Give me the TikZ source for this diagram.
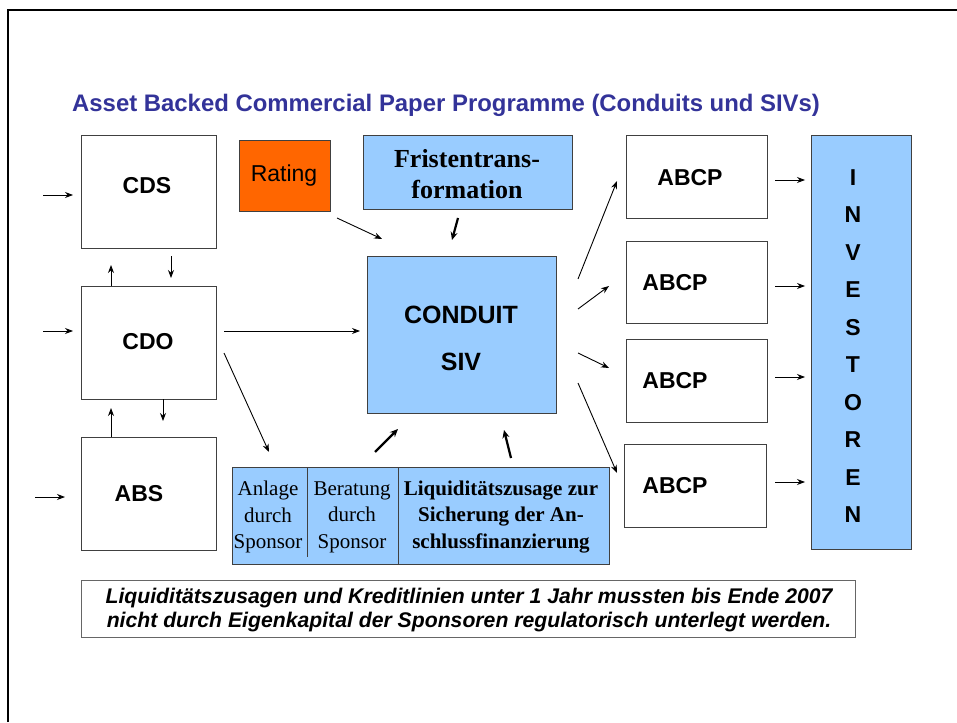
\documentclass[tikz,border=0pt]{standalone}
\usepackage{fontspec}
\setmainfont{Liberation Serif}
\setsansfont{Liberation Sans}
\usetikzlibrary{arrows.meta}
\definecolor{lblue}{HTML}{99CCFF}
\definecolor{orng}{HTML}{FF6600}
\definecolor{ttl}{HTML}{333399}
\begin{document}
\begin{tikzpicture}[x=1pt,y=-1pt,
  wbox/.style={draw=black!75, line width=0.9pt, fill=white, inner sep=0pt, anchor=north west},
  bbox/.style={draw=black!75, line width=0.9pt, fill=lblue, inner sep=0pt, anchor=north west},
  obox/.style={draw=black!75, line width=0.9pt, fill=orng, inner sep=0pt, anchor=north west},
  sflab/.style={font=\sffamily\bfseries\fontsize{23}{27}\selectfont, inner sep=0pt},
  arr/.style={-{Stealth[length=8pt,width=6pt]}, line width=0.9pt},
  tarr/.style={-{Stealth[length=8pt,width=7pt]}, line width=2.2pt},
  cell/.style={align=center, inner sep=0pt, font=\fontsize{21}{26.5}\selectfont}
]
\useasboundingbox (0,0) rectangle (957,722);
\fill[white] (0,0) rectangle (957,722);
\draw[line width=2pt] (8,722) -- (8,10) -- (957,10);

% title
\node[anchor=west, inner sep=0pt, text=ttl, font=\sffamily\bfseries\fontsize{23.9}{27}\selectfont] (title) at (72,105) {Asset Backed Commercial Paper Programme (Conduits und SIVs)};

% left boxes
\node[wbox, minimum width=135pt, minimum height=113pt] (cds) at (81,135) {};
\node[wbox, minimum width=135pt, minimum height=113pt] (cdo) at (81,286) {};
\node[wbox, minimum width=135pt, minimum height=113pt] (abs) at (81,437) {};
\node[sflab] (cdst) at (147,186) {CDS};
\node[sflab] (cdot) at (148,342) {CDO};
\node[sflab] (abst) at (139,494) {ABS};

% rating and fristen
\node[obox, minimum width=91pt, minimum height=71pt] (rating) at (239,140) {};
\node[inner sep=0pt, font=\sffamily\fontsize{23}{27}\selectfont] (ratingt) at (284,176) {Rating};
\node[bbox, minimum width=209pt, minimum height=74pt] (frist) at (363,135) {};
\node[align=center, inner sep=0pt, font=\bfseries\fontsize{26}{31}\selectfont] (fristt) at (467,174) {Fristentrans-\\formation};

% conduit
\node[bbox, minimum width=189pt, minimum height=157pt] (cond) at (367,256) {};
\node[font=\sffamily\bfseries\fontsize{25}{29}\selectfont, inner sep=0pt] (condt1) at (461,315) {CONDUIT};
\node[font=\sffamily\bfseries\fontsize{25}{29}\selectfont, inner sep=0pt] (condt2) at (461,362) {SIV};

% bottom three-cell box
\node[bbox, minimum width=377pt, minimum height=97pt] (sponsor) at (232,467) {};
\coordinate (d1t) at (307,467); \coordinate (d1b) at (307,557);
\coordinate (d2t) at (398,467); \coordinate (d2b) at (398,564);
\draw[line width=0.9pt, draw=black!75] (d1t) -- (d1b);
\draw[line width=0.9pt, draw=black!75] (d2t) -- (d2b);
\node[cell] (anl) at (268,517) {Anlage\\durch\\Sponsor};
\node[cell] (ber) at (352,517) {Beratung\\durch\\Sponsor};
\node[cell, font=\bfseries\fontsize{21}{26.5}\selectfont] (liq) at (501,517) {Liquiditätszusage zur\\Sicherung der An-\\schlussfinanzierung};

% ABCP boxes
\node[wbox, minimum width=141pt, minimum height=83pt] (p1) at (626,135) {};
\node[wbox, minimum width=141pt, minimum height=82pt] (p2) at (626,241) {};
\node[wbox, minimum width=141pt, minimum height=83pt] (p3) at (626,339) {};
\node[wbox, minimum width=142pt, minimum height=83pt] (p4) at (624,444) {};
\node[sflab] (p1t) at (690,178) {ABCP};
\node[sflab] (p2t) at (675,283) {ABCP};
\node[sflab] (p3t) at (675,381) {ABCP};
\node[sflab] (p4t) at (675,486) {ABCP};

% investoren
\node[bbox, minimum width=100pt, minimum height=414pt] (inv) at (811,135) {};
\node[align=center, inner sep=0pt, font=\sffamily\bfseries\fontsize{23}{37.5}\selectfont] (invt) at (853,346) {I\\N\\V\\E\\S\\T\\O\\R\\E\\N};

% note
\node[wbox, draw=black!60, minimum width=774pt, minimum height=57pt] (note) at (81,580) {};
\node[align=center, inner sep=0pt, font=\sffamily\bfseries\itshape\fontsize{21.2}{23.5}\selectfont] (notet) at (469,610) {Liquiditätszusagen und Kreditlinien unter 1 Jahr mussten bis Ende 2007\\nicht durch Eigenkapital der Sponsoren regulatorisch unterlegt werden.};

% arrow coordinates
\coordinate (a1s) at (43,195);  \coordinate (a1e) at (73,195);
\coordinate (a2s) at (43,331);  \coordinate (a2e) at (73,331);
\coordinate (a3s) at (35,497);  \coordinate (a3e) at (65,497);
\coordinate (a4s) at (111,286); \coordinate (a4e) at (111,265);
\coordinate (a5s) at (171,256); \coordinate (a5e) at (171,278);
\coordinate (a6s) at (111,437); \coordinate (a6e) at (111,408);
\coordinate (a7s) at (163,399); \coordinate (a7e) at (163,421);
\coordinate (a8s) at (224,331); \coordinate (a8e) at (360,331);
\coordinate (a9s) at (224,353); \coordinate (a9e) at (269,452);
\coordinate (a10s) at (337,218); \coordinate (a10e) at (382,239);
\coordinate (a11s) at (458,218); \coordinate (a11e) at (452,240);
\coordinate (a12s) at (375,452); \coordinate (a12e) at (398,429);
\coordinate (a13s) at (511,458); \coordinate (a13e) at (504,430);
\coordinate (a14s) at (578,279); \coordinate (a14e) at (617,181);
\coordinate (a15s) at (578,309); \coordinate (a15e) at (609,286);
\coordinate (a16s) at (578,353); \coordinate (a16e) at (609,368);
\coordinate (a17s) at (578,383); \coordinate (a17e) at (617,473);
\coordinate (b1s) at (775,180); \coordinate (b1e) at (805,180);
\coordinate (b2s) at (775,286); \coordinate (b2e) at (805,286);
\coordinate (b3s) at (775,377); \coordinate (b3e) at (805,377);
\coordinate (b4s) at (775,482); \coordinate (b4e) at (805,482);

\foreach \n in {a1,a2,a3,a4,a5,a6,a7,a8,a9,a10,a14,a15,a16,a17,b1,b2,b3,b4}
  \draw[arr] (\n s) -- (\n e);
\foreach \n in {a11,a12,a13}
  \draw[tarr] (\n s) -- (\n e);
\end{tikzpicture}
\end{document}
